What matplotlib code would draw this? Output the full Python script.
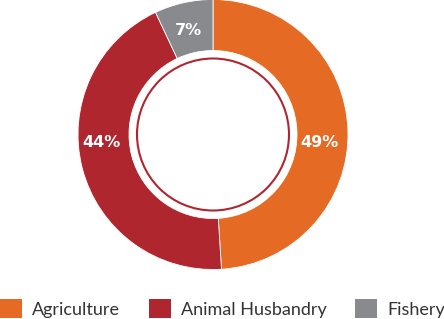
import matplotlib.pyplot as plt
from matplotlib.patches import Patch, Circle

plt.rcParams['font.family'] = ['Lato', 'DejaVu Sans']

categories = ['Agriculture', 'Animal Husbandry', 'Fishery']
shares = [49, 44, 7]
colors = ['#E56B25', '#B0262F', '#898A8D']
# label spots (x, y) in pie units, as in the original
label_pos = [(0.79, -0.06), (-0.83, -0.06), (-0.18, 0.77)]

W, H = 444, 319
fig = plt.figure(figsize=(W / 100, H / 100), dpi=100)

# pie axes placed in pixels: centre (213,134), radius 135
cx, cy, r = 213, 134.5, 135
ax = fig.add_axes([(cx - r) / W, (H - cy - r) / H, 2 * r / W, 2 * r / H])

wedges, texts, autotexts = ax.pie(
    shares, colors=colors, startangle=90, counterclock=False,
    autopct='%d%%', pctdistance=0.8,
    wedgeprops=dict(width=1 - 84 / 135, edgecolor='white', linewidth=0.6),
    textprops=dict(color='white', fontsize=11.5, fontweight='bold',
                   family=['DejaVu Sans']))
for t, p in zip(autotexts, label_pos):
    t.set_position(p)
ax.add_patch(Circle((0, 0), 76 / 135, fill=False, edgecolor='#B0262F', linewidth=1.5))
ax.set_xlim(-1, 1)
ax.set_ylim(-1, 1)
ax.set_aspect('equal')
ax.axis('off')

handles = [Patch(facecolor=c, edgecolor='none') for c in colors]
fig.legend(handles, categories, ncol=3, loc='lower left', bbox_to_anchor=(0, 0.003),
           frameon=False, fontsize=13, handlelength=1.22, handleheight=1.22,
           handletextpad=0.55, columnspacing=1.6, borderpad=0, borderaxespad=0,
           labelcolor='#333333')

fig.savefig('out.png', dpi=100)
